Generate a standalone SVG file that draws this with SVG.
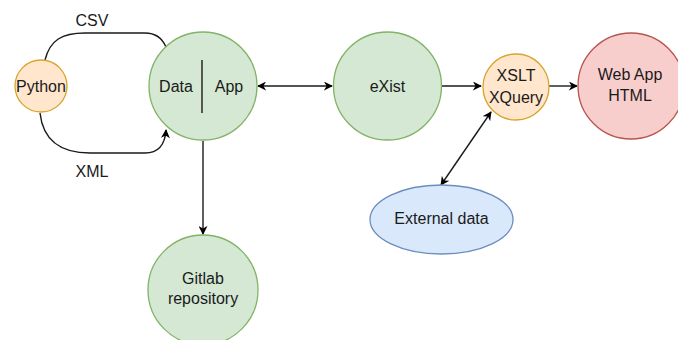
<svg xmlns="http://www.w3.org/2000/svg" width="678" height="340" viewBox="0 0 678 340">
<defs>
<marker id="ah" viewBox="0 0 10 10" refX="9" refY="5" markerWidth="9" markerHeight="9" markerUnits="userSpaceOnUse" orient="auto-start-reverse">
<path d="M0,0 L10,5 L0,10 L3,5 Z" fill="#000"/>
</marker>
<style>
text{font-family:"Liberation Sans",Arial,sans-serif;font-size:16px;fill:#1a1a1a;text-anchor:middle;dominant-baseline:central}
.green{fill:#d5e8d4;stroke:#82b366;stroke-width:1.3}
.orange{fill:#ffe6cc;stroke:#d6a52c;stroke-width:1.3}
.red{fill:#f8cecc;stroke:#b85450;stroke-width:1.3}
.blue{fill:#dae8fc;stroke:#6c8ebf;stroke-width:1.3}
.edge{fill:none;stroke:#1a1a1a;stroke-width:1.4}
</style>
</defs>
<rect width="678" height="340" fill="#fff"/>
<g id="connectors">
<path class="edge" d="M45,60 C50,40 62,33 85,33 L145,33 C158,33 163,40 166,47"/>
<path class="edge" d="M40,113 C43,140 60,153 90,153 L145,153 C158,153 165,145 166,130" marker-end="url(#ah)"/>
<path class="edge" d="M258,86 L332,86" marker-start="url(#ah)" marker-end="url(#ah)"/>
<path class="edge" d="M442,86 L481,86" marker-end="url(#ah)"/>
<path class="edge" d="M549,86 L577,86" marker-end="url(#ah)"/>
<path class="edge" d="M441,185 L491,112" marker-start="url(#ah)" marker-end="url(#ah)"/>
<path class="edge" d="M203,141 L203,234" marker-end="url(#ah)"/>
<text x="92" y="20">CSV</text>
<text x="92" y="171">XML</text>
</g>
<g id="python">
<circle class="orange" cx="41" cy="86" r="26"/>
<text x="41" y="86">Python</text>
</g>
<g id="data-app">
<circle class="green" cx="203" cy="86" r="54"/>
<line x1="202" y1="60" x2="202" y2="113" stroke="#1a1a1a" stroke-width="1.4"/>
<text x="176" y="86">Data</text>
<text x="229" y="86">App</text>
</g>
<g id="exist">
<circle class="green" cx="387.5" cy="86" r="54"/>
<text x="387.5" y="86">eXist</text>
</g>
<g id="xslt">
<circle class="orange" cx="516" cy="87" r="33"/>
<text x="516" y="75">XSLT</text>
<text x="516" y="97">XQuery</text>
</g>
<g id="webapp">
<circle class="red" cx="631" cy="86" r="53"/>
<text x="630" y="74">Web App</text>
<text x="630" y="95">HTML</text>
</g>
<g id="external">
<ellipse class="blue" cx="441.5" cy="219.5" rx="71.5" ry="34.5"/>
<text x="441.5" y="218">External data</text>
</g>
<g id="gitlab">
<circle class="green" cx="203" cy="290" r="55"/>
<text x="203" y="278">Gitlab</text>
<text x="203" y="298">repository</text>
</g>
</svg>
